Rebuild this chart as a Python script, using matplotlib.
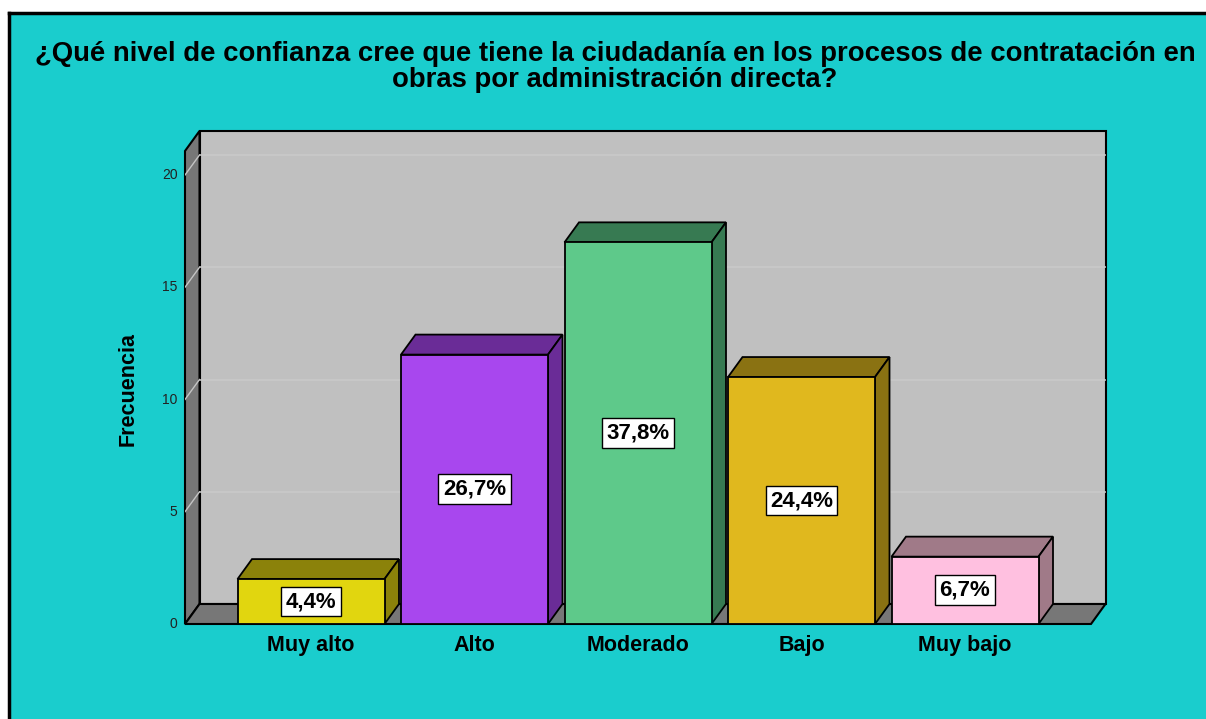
import matplotlib
matplotlib.use("Agg")
import matplotlib.pyplot as plt
from matplotlib.patches import Polygon, Rectangle

# datos
categorias = ["Muy alto", "Alto", "Moderado", "Bajo", "Muy bajo"]
frecuencias = [2, 12, 17, 11, 3]
porcentajes = ["4,4%", "26,7%", "37,8%", "24,4%", "6,7%"]
colores_frente = ["#E1D60F", "#A847EE", "#5EC98A", "#E0B81E", "#FFC0E0"]
colores_lado = ["#8B820A", "#6A2C97", "#377A52", "#8A7212", "#A07A88"]
ticks_y = [0, 5, 10, 15, 20]

plt.rcParams['font.family'] = ['Liberation Sans', 'DejaVu Sans']

W, H = 1206, 719
fig = plt.figure(figsize=(W / 100, H / 100), dpi=100)
fig.patch.set_facecolor("white")

# fondo turquesa con marco
fondo = Rectangle((10 / W, 0), 1 - 10 / W, (H - 14) / H, transform=fig.transFigure,
                  facecolor="#1ACDCD", edgecolor="none", zorder=-5)
fig.patches.append(fondo)
fig.add_artist(plt.Line2D([9 / W, 9 / W], [0, (H - 13) / H], color="black", lw=2.5,
                          transform=fig.transFigure, zorder=-4))
fig.add_artist(plt.Line2D([9 / W, 1], [(H - 13) / H, (H - 13) / H], color="black", lw=2.5,
                          transform=fig.transFigure, zorder=-4))

# geometria en pixeles -> datos
px_cat = 163.5
px_unit = 22.45
left_px, right_px, bottom_px, top_px = 185, 1106, 624, 131
x0 = -126 / px_cat
xmax = x0 + (right_px - left_px) / px_cat
x1 = x0 + (1091 - left_px) / px_cat
ymax = (bottom_px - top_px) / px_unit
dx = 14.5 / px_cat
dy = 20 / px_unit
ancho = 147 / px_cat

ax = fig.add_axes([left_px / W, (H - bottom_px) / H, (right_px - left_px) / W,
                   (bottom_px - top_px) / H])
ax.set_zorder(2)
ax.set_xlim(x0, xmax)
ax.set_ylim(0, ymax)
ax.axis("off")

# pared del fondo, pared izquierda y piso
ax.add_patch(Polygon([(x0 + dx, dy), (x1 + dx, dy), (x1 + dx, ymax), (x0 + dx, ymax)],
                     closed=True, facecolor="#C0C0C0", edgecolor="black", lw=1.5, zorder=1,
                     clip_on=False))
ax.add_patch(Polygon([(x0, 0), (x0 + dx, dy), (x0 + dx, ymax), (x0, ymax - dy)],
                     closed=True, facecolor="#777777", edgecolor="black", lw=1.5, zorder=1,
                     clip_on=False))
ax.add_patch(Polygon([(x0, 0), (x1, 0), (x1 + dx, dy), (x0 + dx, dy)],
                     closed=True, facecolor="#777777", edgecolor="black", lw=1.5, zorder=1,
                     clip_on=False))

for v in ticks_y[1:]:
    ax.plot([x0 + dx, x1 + dx], [v + dy, v + dy], color="#CACACA", lw=1.1, zorder=2)
    ax.plot([x0, x0 + dx], [v, v + dy], color="#C4C4C4", lw=1, zorder=2)
for v in ticks_y:
    ax.text(x0 - 0.045, v, str(v), ha="right", va="center", fontsize=10, color="#222222",
            clip_on=False)

# barras 3d
for i, (h, cf, cl) in enumerate(zip(frecuencias, colores_frente, colores_lado)):
    a, b = i - ancho / 2, i + ancho / 2
    ax.add_patch(Polygon([(a, h), (b, h), (b + dx, h + dy), (a + dx, h + dy)], closed=True,
                         facecolor=cl, edgecolor="black", lw=1.3, zorder=3, clip_on=False))
    ax.add_patch(Polygon([(b, 0), (b + dx, dy), (b + dx, h + dy), (b, h)], closed=True,
                         facecolor=cl, edgecolor="black", lw=1.3, zorder=3, clip_on=False))
    ax.add_patch(Rectangle((a, 0), ancho, h, facecolor=cf, edgecolor="black", lw=1.3, zorder=4,
                           clip_on=False))
    ax.text(i, h / 2, porcentajes[i], ha="center", va="center", fontsize=16,
            fontweight="bold", zorder=5,
            bbox=dict(boxstyle="square,pad=0.2", facecolor="white", edgecolor="black", lw=1))
    ax.text(i, -0.95, categorias[i], ha="center", va="center", fontsize=15.5,
            fontweight="bold", clip_on=False)

ax.text(x0 - 0.35, (bottom_px - 389) / px_unit, "Frecuencia", rotation=90, ha="center",
        va="center", fontsize=15.5, fontweight="bold", clip_on=False)

fig.text(615 / W, 1 - 67 / H,
         "¿Qué nivel de confianza cree que tiene la ciudadanía en los procesos de contratación en\n"
         "obras por administración directa?", ha="center", va="center", fontsize=19.8,
         fontweight="bold", linespacing=0.98)

fig.savefig("out.png", dpi=100)
